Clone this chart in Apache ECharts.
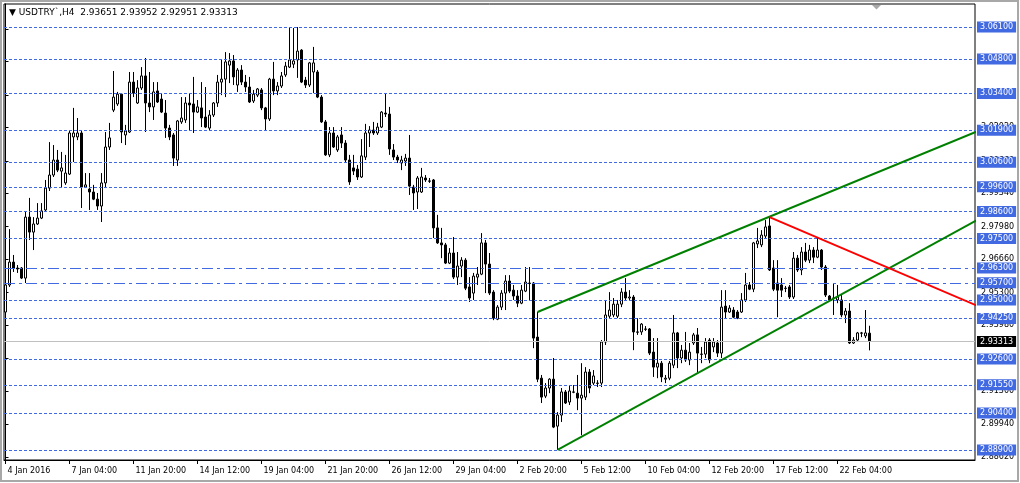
<!DOCTYPE html>
<html><head><meta charset="utf-8">
<script src="https://cdn.jsdelivr.net/npm/echarts@6/dist/echarts.min.js"></script>
<style>html,body{margin:0;padding:0;background:#fff}#c{width:1020px;height:483px}</style>
</head><body><div id="c"></div>
<script>
const symbolTitle = "USDTRY`,H4";
const lastBarText = ["2.93651", "2.93952", "2.92951", "2.93313"];
const xTickLabels = ['4 Jan 2016','7 Jan 04:00','11 Jan 20:00','14 Jan 12:00','19 Jan 04:00','21 Jan 20:00','26 Jan 12:00','29 Jan 04:00','2 Feb 20:00','5 Feb 12:00','10 Feb 04:00','12 Feb 20:00','17 Feb 12:00','22 Feb 04:00'];
const barsPerTick = 16;
const xMin = -0.375, xMax = 242.375;

const opens = [
2.9451,2.9561,2.9654,2.9630,2.9630,2.9589,2.9837,2.9776,2.9809,2.9833,
2.9866,2.9955,3.0008,3.0069,3.0024,2.9976,3.0012,3.0163,3.0163,3.0179,
2.9959,2.9951,2.9939,2.9910,2.9882,2.9976,3.0122,3.0272,3.0297,3.0337,
3.0171,3.0183,3.0386,3.0301,3.0362,3.0411,3.0301,3.0285,3.0350,3.0317,
3.0260,3.0199,3.0171,3.0069,3.0224,3.0232,3.0301,3.0297,3.0264,3.0281,
3.0244,3.0199,3.0252,3.0301,3.0386,3.0398,3.0455,3.0472,3.0374,3.0435,
3.0386,3.0366,3.0309,3.0333,3.0354,3.0281,3.0236,3.0398,3.0350,3.0370,
3.0415,3.0447,3.0459,3.0476,3.0516,3.0394,3.0374,3.0427,3.0427,3.0325,
3.0224,3.0090,3.0179,3.0110,3.0171,3.0138,3.0069,3.0037,3.0032,3.0000,
3.0081,3.0179,3.0191,3.0179,3.0203,3.0260,3.0256,3.0110,3.0081,3.0057,
3.0065,3.0077,2.9959,2.9939,2.9939,2.9996,2.9984,2.9988,2.9793,2.9732,
2.9724,2.9650,2.9691,2.9593,2.9638,2.9662,2.9553,2.9528,2.9593,2.9605,
2.9732,2.9646,2.9532,2.9422,2.9471,2.9528,2.9577,2.9540,2.9516,2.9487,
2.9536,2.9569,2.9569,2.9349,2.9182,2.9109,2.9142,2.9178,2.8987,2.9032,
2.9126,2.9085,2.9126,2.9121,2.9101,2.9105,2.9207,2.9162,2.9162,2.9162,
2.9329,2.9434,2.9439,2.9434,2.9483,2.9532,2.9508,2.9512,2.9370,2.9370,
2.9382,2.9382,2.9288,2.9227,2.9243,2.9178,2.9182,2.9235,2.9366,2.9264,
2.9296,2.9256,2.9325,2.9358,2.9280,2.9280,2.9337,2.9309,2.9325,2.9284,
2.9475,2.9451,2.9459,2.9451,2.9451,2.9500,2.9561,2.9544,2.9728,2.9724,
2.9760,2.9801,2.9630,2.9569,2.9561,2.9548,2.9553,2.9512,2.9670,2.9622,
2.9695,2.9662,2.9703,2.9674,2.9703,2.9634,2.9516,2.9508,2.9500,2.9500,
2.9439,2.9455,2.9325,2.9337,2.9366,2.9354,2.93651];

const closes = [
2.9561,2.9654,2.9630,2.9626,2.9589,2.9837,2.9776,2.9809,2.9833,2.9862,
2.9955,3.0008,3.0069,3.0028,3.0037,3.0016,3.0179,3.0179,3.0179,2.9959,
2.9968,2.9939,2.9910,2.9882,2.9976,3.0122,3.0159,3.0325,3.0337,3.0183,
3.0187,3.0386,3.0341,3.0362,3.0411,3.0301,3.0285,3.0346,3.0305,3.0264,
3.0199,3.0163,3.0077,3.0228,3.0240,3.0301,3.0293,3.0264,3.0285,3.0240,
3.0203,3.0252,3.0301,3.0386,3.0398,3.0468,3.0472,3.0407,3.0435,3.0386,
3.0366,3.0305,3.0337,3.0358,3.0281,3.0236,3.0398,3.0350,3.0370,3.0411,
3.0451,3.0476,3.0472,3.0512,3.0386,3.0374,3.0464,3.0464,3.0325,3.0224,
3.0090,3.0179,3.0122,3.0163,3.0138,3.0069,2.9980,3.0024,3.0000,3.0086,
3.0179,3.0191,3.0179,3.0203,3.0264,3.0256,3.0114,3.0081,3.0069,3.0069,
3.0077,2.9963,2.9935,2.9996,3.0000,2.9988,2.9983,2.9793,2.9732,2.9724,
2.9650,2.9691,2.9593,2.9638,2.9662,2.9548,2.9508,2.9597,2.9605,2.9732,
2.9646,2.9528,2.9426,2.9471,2.9528,2.9577,2.9536,2.9516,2.9487,2.9540,
2.9573,2.9567,2.9345,2.9178,2.9105,2.9142,2.9178,2.8983,2.9032,2.9126,
2.9081,2.9130,2.9125,2.9101,2.9113,2.9207,2.9142,2.9191,2.9161,2.9329,
2.9439,2.9459,2.9483,2.9483,2.9532,2.9508,2.9512,2.9370,2.9369,2.9402,
2.9381,2.9284,2.9227,2.9243,2.9187,2.9182,2.9243,2.9366,2.9264,2.9296,
2.9256,2.9288,2.9358,2.9284,2.9279,2.9329,2.9256,2.9329,2.9284,2.9471,
2.9451,2.9467,2.9430,2.9426,2.9500,2.9561,2.9544,2.9732,2.9740,2.9764,
2.9797,2.9622,2.9544,2.9540,2.9540,2.9547,2.9512,2.9670,2.9622,2.9695,
2.9662,2.9703,2.9674,2.9703,2.9634,2.9520,2.9500,2.9507,2.9512,2.9439,
2.9455,2.9325,2.9337,2.9366,2.9365,2.9366,2.93313];

const lows = [
2.9418,2.9553,2.9614,2.9610,2.9585,2.9569,2.9744,2.9703,2.9805,2.9829,
2.9858,2.9943,3.0000,3.0020,2.9959,2.9968,3.0008,3.0061,3.0150,2.9874,
2.9955,2.9866,2.9906,2.9866,2.9817,2.9955,3.0110,3.0264,3.0289,3.0138,
3.0130,3.0179,3.0325,3.0297,3.0354,3.0183,3.0264,3.0232,3.0301,3.0260,
3.0159,3.0150,3.0045,3.0045,3.0216,3.0220,3.0191,3.0179,3.0260,3.0203,
3.0199,3.0191,3.0244,3.0285,3.0333,3.0325,3.0382,3.0374,3.0346,3.0374,
3.0346,3.0301,3.0301,3.0325,3.0272,3.0191,3.0228,3.0333,3.0333,3.0362,
3.0407,3.0443,3.0443,3.0403,3.0382,3.0362,3.0366,3.0341,3.0321,3.0220,
3.0086,3.0081,3.0118,3.0102,3.0118,3.0061,2.9968,3.0008,2.9988,2.9996,
3.0069,3.0122,3.0171,3.0171,3.0199,3.0244,3.0090,3.0069,3.0057,3.0028,
3.0045,2.9927,2.9866,2.9870,2.9935,2.9980,2.9976,2.9752,2.9728,2.9670,
2.9646,2.9646,2.9585,2.9561,2.9593,2.9540,2.9492,2.9500,2.9561,2.9601,
2.9528,2.9520,2.9418,2.9418,2.9459,2.9459,2.9528,2.9500,2.9471,2.9483,
2.9532,2.9500,2.9304,2.9166,2.9081,2.9101,2.9121,2.8979,2.8890,2.9004,
2.9077,2.9073,2.9121,2.9052,2.8950,2.9093,2.9121,2.9154,2.9146,2.9146,
2.9317,2.9426,2.9430,2.9426,2.9471,2.9500,2.9500,2.9296,2.9358,2.9358,
2.9374,2.9276,2.9187,2.9182,2.9166,2.9162,2.9174,2.9223,2.9223,2.9243,
2.9248,2.9235,2.9317,2.9203,2.9243,2.9264,2.9243,2.9288,2.9268,2.9264,
2.9426,2.9447,2.9426,2.9422,2.9447,2.9492,2.9540,2.9532,2.9711,2.9715,
2.9752,2.9618,2.9536,2.9430,2.9512,2.9532,2.9504,2.9504,2.9614,2.9601,
2.9654,2.9650,2.9650,2.9670,2.9622,2.9512,2.9496,2.9439,2.9487,2.9430,
2.9406,2.9321,2.9321,2.9329,2.9349,2.9345,2.92951];

const highs = [
2.9573,2.9788,2.9683,2.9642,2.9634,2.9858,2.9915,2.9837,2.9894,2.9894,
2.9988,3.0142,3.0130,3.0110,3.0102,3.0090,3.0191,3.0281,3.0240,3.0191,
3.0016,3.0016,2.9968,2.9935,3.0016,3.0183,3.0220,3.0431,3.0346,3.0341,
3.0212,3.0427,3.0427,3.0394,3.0447,3.0484,3.0427,3.0386,3.0386,3.0341,
3.0313,3.0212,3.0179,3.0232,3.0325,3.0325,3.0341,3.0407,3.0313,3.0386,
3.0366,3.0272,3.0305,3.0415,3.0476,3.0508,3.0504,3.0496,3.0443,3.0455,
3.0415,3.0407,3.0354,3.0362,3.0362,3.0285,3.0403,3.0468,3.0386,3.0427,
3.0468,3.0610,3.0606,3.0610,3.0520,3.0407,3.0468,3.0529,3.0435,3.0333,
3.0232,3.0203,3.0203,3.0171,3.0203,3.0150,3.0090,3.0090,3.0049,3.0154,
3.0216,3.0207,3.0224,3.0220,3.0268,3.0341,3.0285,3.0134,3.0090,3.0086,
3.0094,3.0171,2.9968,3.0004,3.0037,3.0008,2.9996,2.9992,2.9846,2.9793,
2.9732,2.9711,2.9756,2.9695,2.9674,2.9670,2.9593,2.9610,2.9634,2.9772,
2.9744,2.9691,2.9540,2.9479,2.9540,2.9601,2.9601,2.9561,2.9540,2.9561,
2.9634,2.9634,2.9573,2.9451,2.9195,2.9162,2.9182,2.9264,2.9044,2.9142,
2.9134,2.9154,2.9154,2.9195,2.9243,2.9227,2.9219,2.9215,2.9174,2.9337,
2.9500,2.9532,2.9508,2.9500,2.9548,2.9589,2.9540,2.9520,2.9426,2.9406,
2.9394,2.9386,2.9345,2.9345,2.9252,2.9195,2.9252,2.9439,2.9370,2.9317,
2.9370,2.9325,2.9366,2.9386,2.9309,2.9345,2.9345,2.9345,2.9337,2.9540,
2.9540,2.9479,2.9471,2.9459,2.9528,2.9610,2.9573,2.9736,2.9793,2.9784,
2.9825,2.9837,2.9662,2.9662,2.9589,2.9557,2.9561,2.9695,2.9683,2.9715,
2.9732,2.9724,2.9715,2.9756,2.9707,2.9642,2.9520,2.9569,2.9561,2.9520,
2.9467,2.9487,2.9349,2.9370,2.9370,2.9459,2.93952];

const priceTicks = [2.8862,2.8994,2.9130,2.9262,2.9398,2.9530,2.9666,2.9798,2.9934,3.0066,3.0202,3.0334,3.0470,3.0602];
const levelLines = [3.061,3.048,3.034,3.019,3.006,2.996,2.986,2.975,2.963,2.957,2.950,2.9425,2.926,2.9155,2.904,2.889];
const dashDotLevels = [2.963, 2.957];
const lastPrice = 2.93313;
const upperChannel = [[133, 2.9451], [243, 3.0186]];
const lowerChannel = [[138, 2.8890], [243, 2.9826]];
const resistanceLine = [[191, 2.9837], [243, 2.9476]];
const yMin = 2.88493, yMax = 3.07035;

const FONT = 'Tahoma, "DejaVu Sans", sans-serif';
const candles = opens.map((o, i) => [i, o, closes[i], lows[i], highs[i]]);
const xTickValues = xTickLabels.map((_, k) => k * barsPerTick);

const levelData = [{
  yAxis: lastPrice,
  lineStyle: {color: '#c0c0c0', type: 'solid', width: 1},
  label: {show: true, position: 'end', distance: 2, formatter: lastPrice.toFixed(5),
    backgroundColor: '#000', color: '#fff', fontSize: 8, fontFamily: FONT, padding: [2, 3, 1, 3]}
}].concat(levelLines.map(v => ({
  yAxis: v,
  lineStyle: {color: '#4169E1', width: 1, type: dashDotLevels.includes(v) ? [11, 4, 3, 4] : [3, 2]},
  label: {show: true, position: 'end', distance: 2, formatter: v.toFixed(5),
    backgroundColor: '#4169E1', color: '#fff', fontSize: 8, fontFamily: FONT, padding: [2, 3, 1, 3]}
})));

const chart = echarts.init(document.getElementById('c'), null, {renderer: 'canvas'});
chart.setOption({
  animation: false,
  backgroundColor: '#fff',
  title: {
    text: '\u25BC ' + symbolTitle + '  ' + lastBarText.join(' '),
    left: 9, top: 8, padding: 0,
    textStyle: {fontFamily: FONT, fontSize: 9, fontWeight: 'normal', color: '#000'}
  },
  grid: {left: 4, right: 45, top: 4, bottom: 23, show: true, borderColor: '#000', borderWidth: 1, backgroundColor: '#fff'},
  xAxis: {
    type: 'value', min: xMin, max: xMax,
    axisLine: {lineStyle: {color: '#000'}},
    axisTick: {show: true, customValues: xTickValues, length: 4, lineStyle: {color: '#000'}},
    axisLabel: {
      customValues: xTickValues,
      formatter: (val) => xTickLabels[Math.round(val / barsPerTick)] || '',
      align: 'left', padding: [0, 0, 0, 2], margin: 7,
      fontSize: 8, fontFamily: FONT, color: '#000'
    },
    splitLine: {show: false}
  },
  yAxis: {
    type: 'value', position: 'right', min: yMin, max: yMax,
    splitLine: {show: false},
    axisLine: {show: true, lineStyle: {color: '#000'}},
    axisTick: {show: true, customValues: priceTicks, length: 3, lineStyle: {color: '#000'}},
    axisLabel: {customValues: priceTicks, formatter: (v) => v.toFixed(5), fontSize: 8, fontFamily: FONT, color: '#000', margin: 6}
  },
  series: [
    {
      type: 'candlestick', data: candles, encode: {x: 0, y: [1, 2, 3, 4]}, barWidth: 2, silent: true,
      itemStyle: {color: '#fff', color0: '#000', borderColor: '#000', borderColor0: '#000', borderWidth: 1},
      markLine: {symbol: ['none', 'none'], precision: 5, silent: true, animation: false, data: levelData}
    },
    {type: 'line', data: upperChannel, symbol: 'none', silent: true, lineStyle: {color: '#008000', width: 2}, z: 5},
    {type: 'line', data: lowerChannel, symbol: 'none', silent: true, lineStyle: {color: '#008000', width: 2}, z: 5},
    {type: 'line', data: resistanceLine, symbol: 'none', silent: true, lineStyle: {color: '#ff0000', width: 2}, z: 5}
  ],
  graphic: [
    {type: 'rect', silent: true, z: 100, shape: {x: 1, y: 1, width: 1017, height: 480}, style: {fill: 'none', stroke: '#a8a8a8', lineWidth: 2}},
    {type: 'polygon', silent: true, z: 100, shape: {points: [[872, 5], [881, 5], [876.5, 9.5]]}, style: {fill: '#a8a8a8'}}
  ]
});
</script>
</body></html>
